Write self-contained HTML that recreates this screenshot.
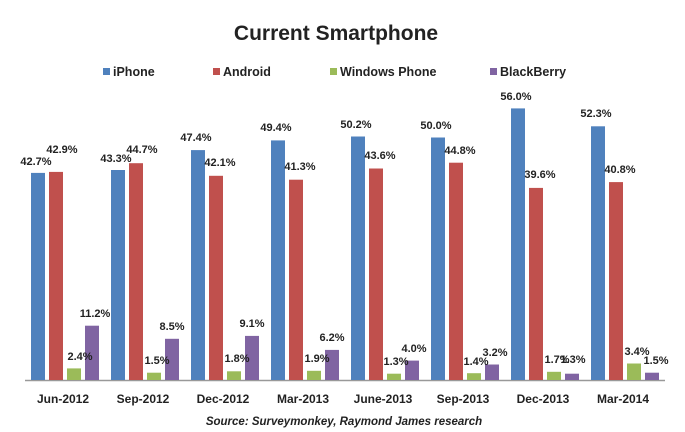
<!DOCTYPE html><html><head><style>body{margin:0;background:#fff}svg{display:block}text{font-family:"Liberation Sans",sans-serif;fill:#222}</style></head><body>
<svg width="685" height="432" viewBox="0 0 685 432">
<text x="336" y="40" text-anchor="middle" font-size="21" font-weight="bold">Current Smartphone</text>
<g font-size="12.5" font-weight="bold" fill="#333">
<rect x="103" y="68" width="7" height="7" fill="#4f81bd"/><text x="113" y="76">iPhone</text>
<rect x="213" y="68" width="7" height="7" fill="#c0504d"/><text x="223" y="76">Android</text>
<rect x="330" y="68" width="7" height="7" fill="#9bbb59"/><text x="340" y="76">Windows Phone</text>
<rect x="490" y="68" width="7" height="7" fill="#8064a2"/><text x="500" y="76">BlackBerry</text>
</g>
<line x1="25" y1="380.5" x2="665" y2="380.5" stroke="#999" stroke-width="1.5"/>
<g>
<rect x="31" y="172.9" width="14" height="207.1" fill="#4f81bd"/><rect x="49" y="171.9" width="14" height="208.1" fill="#c0504d"/><rect x="67" y="368.4" width="14" height="11.6" fill="#9bbb59"/><rect x="85" y="325.7" width="14" height="54.3" fill="#8064a2"/>
<rect x="111" y="170" width="14" height="210" fill="#4f81bd"/><rect x="129" y="163.2" width="14" height="216.8" fill="#c0504d"/><rect x="147" y="372.7" width="14" height="7.3" fill="#9bbb59"/><rect x="165" y="338.8" width="14" height="41.2" fill="#8064a2"/>
<rect x="191" y="150.1" width="14" height="229.9" fill="#4f81bd"/><rect x="209" y="175.8" width="14" height="204.2" fill="#c0504d"/><rect x="227" y="371.3" width="14" height="8.7" fill="#9bbb59"/><rect x="245" y="335.9" width="14" height="44.1" fill="#8064a2"/>
<rect x="271" y="140.4" width="14" height="239.6" fill="#4f81bd"/><rect x="289" y="179.7" width="14" height="200.3" fill="#c0504d"/><rect x="307" y="370.8" width="14" height="9.2" fill="#9bbb59"/><rect x="325" y="349.9" width="14" height="30.1" fill="#8064a2"/>
<rect x="351" y="136.5" width="14" height="243.5" fill="#4f81bd"/><rect x="369" y="168.5" width="14" height="211.5" fill="#c0504d"/><rect x="387" y="373.7" width="14" height="6.3" fill="#9bbb59"/><rect x="405" y="360.6" width="14" height="19.4" fill="#8064a2"/>
<rect x="431" y="137.5" width="14" height="242.5" fill="#4f81bd"/><rect x="449" y="162.7" width="14" height="217.3" fill="#c0504d"/><rect x="467" y="373.2" width="14" height="6.8" fill="#9bbb59"/><rect x="485" y="364.5" width="14" height="15.5" fill="#8064a2"/>
<rect x="511" y="108.4" width="14" height="271.6" fill="#4f81bd"/><rect x="529" y="187.9" width="14" height="192.1" fill="#c0504d"/><rect x="547" y="371.8" width="14" height="8.2" fill="#9bbb59"/><rect x="565" y="373.7" width="14" height="6.3" fill="#8064a2"/>
<rect x="591" y="126.3" width="14" height="253.7" fill="#4f81bd"/><rect x="609" y="182.1" width="14" height="197.9" fill="#c0504d"/><rect x="627" y="363.5" width="14" height="16.5" fill="#9bbb59"/><rect x="645" y="372.7" width="14" height="7.3" fill="#8064a2"/>
</g>
<g font-size="11" text-anchor="middle" font-weight="bold" fill="#333">
<text x="36" y="165">42.7%</text><text x="62" y="153">42.9%</text><text x="80" y="360">2.4%</text><text x="95" y="317">11.2%</text>
<text x="116" y="162">43.3%</text><text x="142" y="153">44.7%</text><text x="157" y="364">1.5%</text><text x="172" y="330">8.5%</text>
<text x="196" y="141">47.4%</text><text x="220" y="166">42.1%</text><text x="237" y="362">1.8%</text><text x="252" y="327">9.1%</text>
<text x="276" y="131">49.4%</text><text x="300" y="170">41.3%</text><text x="317" y="362">1.9%</text><text x="332" y="341">6.2%</text>
<text x="356" y="128">50.2%</text><text x="380" y="159">43.6%</text><text x="396" y="365">1.3%</text><text x="414" y="352">4.0%</text>
<text x="436" y="129">50.0%</text><text x="460" y="154">44.8%</text><text x="476" y="365">1.4%</text><text x="495" y="356">3.2%</text>
<text x="516" y="100">56.0%</text><text x="540" y="178">39.6%</text><text x="557" y="363">1.7%</text><text x="573" y="363">1.3%</text>
<text x="596" y="117">52.3%</text><text x="620" y="173">40.8%</text><text x="637" y="355">3.4%</text><text x="656" y="364">1.5%</text>
</g>
<g font-size="12" text-anchor="middle" font-weight="bold" fill="#333">
<text x="63" y="403">Jun-2012</text><text x="143" y="403">Sep-2012</text><text x="223" y="403">Dec-2012</text><text x="303" y="403">Mar-2013</text><text x="383" y="403">June-2013</text><text x="463" y="403">Sep-2013</text><text x="543" y="403">Dec-2013</text><text x="623" y="403">Mar-2014</text>
</g>
<text x="344" y="425" text-anchor="middle" font-size="11.5" font-weight="bold" font-style="italic">Source: Surveymonkey, Raymond James research</text>
</svg></body></html>
